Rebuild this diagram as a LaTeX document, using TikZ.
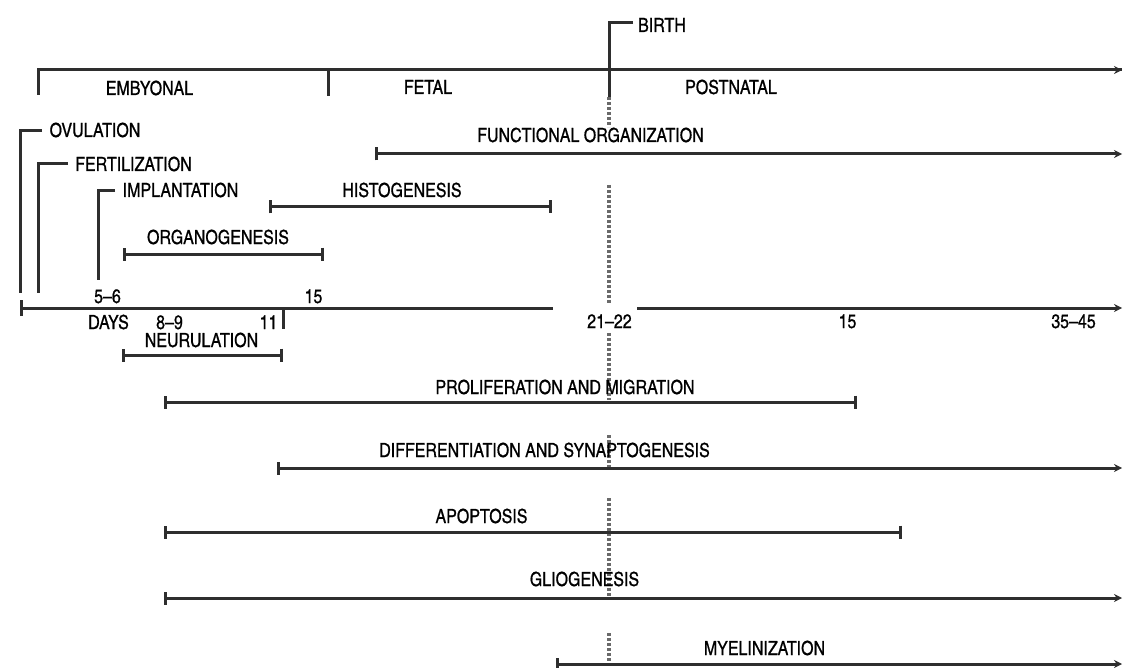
\documentclass[tikz,border=0pt]{standalone}
\usepackage{fontspec}
\setmainfont{texgyreheroscn-regular}[Extension=.otf, FakeBold=0.7]
\usetikzlibrary{arrows.meta}
\definecolor{ink}{HTML}{2E2E2E}
\definecolor{dots}{HTML}{6A6A6A}
\tikzset{
  lbl/.style={font=\fontsize{19.5}{19.5}\selectfont, inner sep=0pt, anchor=base, text=black},
  ln/.style={draw=ink, line width=3pt},
  span/.style={ln, {Bar[width=13pt,line width=3pt]}-{Bar[width=13pt,line width=3pt]}},
  spanarrow/.style={ln, {Bar[width=13pt,line width=3pt]}-{Stealth[length=8pt,width=8pt]}},
  arrowonly/.style={ln, -{Stealth[length=8pt,width=8pt]}},
  birthdots/.style={draw=dots, line width=3.2pt, dash pattern=on 3pt off 2pt},
}
\begin{document}
\begin{tikzpicture}[x=1pt,y=-1pt]
\useasboundingbox (0,0) rectangle (1123,668);

% ---------- coordinates ----------
\coordinate (phaseL) at (38,95);
\coordinate (phaseC) at (38,70);
\coordinate (phaseR) at (1122,70);
\coordinate (fetT) at (328,70);
\coordinate (fetB) at (328,96);
\coordinate (birthH) at (633,23);
\coordinate (birthC) at (609,23);
\coordinate (birthB) at (609,97);
\coordinate (ovH) at (42,131);
\coordinate (ovC) at (20,131);
\coordinate (ovB) at (20,293);
\coordinate (feH) at (68,164);
\coordinate (feC) at (38,164);
\coordinate (feB) at (38,293);
\coordinate (imH) at (115,191);
\coordinate (imC) at (98,191);
\coordinate (imB) at (98,280);
\coordinate (tlL) at (20,308);
\coordinate (tlM1) at (553,308);
\coordinate (tlM2) at (637,308);
\coordinate (tlR) at (1122,308);
\coordinate (t11a) at (283,308);
\coordinate (t11b) at (283,329);
\coordinate (foL) at (375,154);
\coordinate (foR) at (1122,154);
\coordinate (hiL) at (269,207);
\coordinate (hiR) at (552,207);
\coordinate (orL) at (123,254);
\coordinate (orR) at (324,254);
\coordinate (neL) at (122,355);
\coordinate (neR) at (283,355);
\coordinate (prL) at (164,402);
\coordinate (prR) at (857,402);
\coordinate (diL) at (277,468);
\coordinate (diR) at (1122,468);
\coordinate (apL) at (164,532);
\coordinate (apR) at (902,532);
\coordinate (glL) at (164,598);
\coordinate (glR) at (1122,598);
\coordinate (myL) at (556,664);
\coordinate (myR) at (1122,664);

% ---------- birth dotted line ----------
\foreach \a/\b in {97/127, 185/303, 333/400, 435/468, 498/598, 633/668}
  \draw[birthdots] (609,\a) -- (609,\b);

% ---------- phase line ----------
\draw[ln] (phaseL) -- (phaseC) -- (phaseR);
\draw[arrowonly] (phaseC) -- (phaseR);
\draw[ln] (fetT) -- (fetB);
\draw[ln] (birthH) -- (birthC) -- (birthB);

% ---------- events ----------
\draw[ln] (ovH) -- (ovC) -- (ovB);
\draw[ln] (feH) -- (feC) -- (feB);
\draw[ln] (imH) -- (imC) -- (imB);

% ---------- timeline ----------
\draw[ln, {Bar[width=16pt,line width=3pt]}-] (tlL) -- (tlM1);
\draw[arrowonly] (tlM2) -- (tlR);
\draw[ln] (t11a) -- (t11b);

% ---------- processes ----------
\draw[spanarrow] (foL) -- (foR);
\draw[span] (hiL) -- (hiR);
\draw[span] (orL) -- (orR);
\draw[span] (neL) -- (neR);
\draw[span] (prL) -- (prR);
\draw[spanarrow] (diL) -- (diR);
\draw[span] (apL) -- (apR);
\draw[spanarrow] (glL) -- (glR);
\draw[spanarrow] (myL) -- (myR);

% ---------- labels ----------
\node[lbl] (birth) at (662,32) {BIRTH};
\node[lbl] (emb) at (149.5,95) {EMBYONAL};
\node[lbl] (fet) at (428,94) {FETAL};
\node[lbl] (post) at (731,94) {POSTNATAL};
\node[lbl] (ovu) at (95,137) {OVULATION};
\node[lbl] (fer) at (133.5,171) {FERTILIZATION};
\node[lbl] (imp) at (180.5,197) {IMPLANTATION};
\node[lbl] (fun) at (590.5,142) {FUNCTIONAL ORGANIZATION};
\node[lbl] (his) at (402,197) {HISTOGENESIS};
\node[lbl] (org) at (218,244) {ORGANOGENESIS};
\node[lbl] (d56) at (107.5,303) {5–6};
\node[lbl] (d15a) at (313.5,303) {15};
\node[lbl] (days) at (108.5,329) {DAYS};
\node[lbl] (d89) at (169.5,329) {8–9};
\node[lbl] (d11) at (268.5,329) {11};
\node[lbl] (d2122) at (609.5,328) {21–22};
\node[lbl] (d15b) at (847.5,328) {15};
\node[lbl] (d3545) at (1073.5,328) {35–45};
\node[lbl] (neu) at (201.5,347) {NEURULATION};
\node[lbl] (pro) at (565,394) {PROLIFERATION AND MIGRATION};
\node[lbl] (dif) at (544.5,457) {DIFFERENTIATION AND SYNAPTOGENESIS};
\node[lbl] (apo) at (481.5,523) {APOPTOSIS};
\node[lbl] (gli) at (584.5,586) {GLIOGENESIS};
\node[lbl] (mye) at (764.5,655) {MYELINIZATION};
\end{tikzpicture}
\end{document}
